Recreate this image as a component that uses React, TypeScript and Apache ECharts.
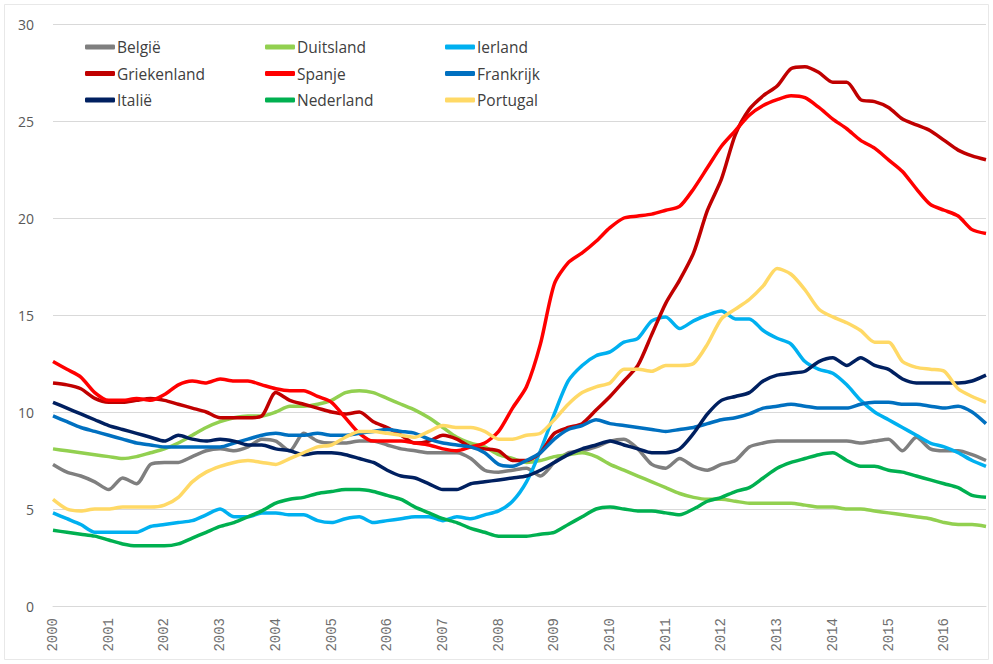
import React, { useEffect, useRef } from "react";
import * as echarts from "echarts";

const years = ["2000","2001","2002","2003","2004","2005","2006","2007","2008","2009","2010","2011","2012","2013","2014","2015","2016"];
const quarters = ["Q1","Q2","Q3","Q4"];
const categories: string[] = [];
years.forEach((y) => quarters.forEach((q) => categories.push(`${y} ${q}`)));

const belgie = [7.3,6.9,6.7,6.4, 6.0,6.6,6.3,7.3, 7.4,7.4,7.7,8.0, 8.1,8.0,8.2,8.6, 8.5,8.0,8.9,8.5, 8.4,8.4,8.5,8.5, 8.3,8.1,8.0,7.9, 7.9,7.9,7.6,7.0, 6.9,7.0,7.1,6.7, 7.4,7.9,8.0,8.2, 8.5,8.6,8.1,7.3, 7.1,7.6,7.2,7.0, 7.3,7.5,8.2,8.4, 8.5,8.5,8.5,8.5, 8.5,8.5,8.4,8.5, 8.6,8.0,8.7,8.1, 8.0,8.0,7.8,7.5];
const duitsland = [8.1,8.0,7.9,7.8, 7.7,7.6,7.7,7.9, 8.1,8.4,8.8,9.2, 9.5,9.7,9.8,9.8, 10.0,10.3,10.3,10.4, 10.6,11.0,11.1,11.0, 10.7,10.4,10.1,9.7, 9.2,8.7,8.4,8.2, 7.8,7.6,7.4,7.5, 7.7,7.8,7.9,7.7, 7.3,7.0,6.7,6.4, 6.1,5.8,5.6,5.5, 5.5,5.4,5.3,5.3, 5.3,5.3,5.2,5.1, 5.1,5.0,5.0,4.9, 4.8,4.7,4.6,4.5, 4.3,4.2,4.2,4.1];
const ierland = [4.8,4.5,4.2,3.8, 3.8,3.8,3.8,4.1, 4.2,4.3,4.4,4.7, 5.0,4.6,4.6,4.8, 4.8,4.7,4.7,4.4, 4.3,4.5,4.6,4.3, 4.4,4.5,4.6,4.6, 4.4,4.6,4.5,4.7, 4.9,5.4,6.4,8.0, 9.9,11.6,12.4,12.9, 13.1,13.6,13.8,14.7, 14.9,14.3,14.7,15.0, 15.2,14.8,14.8,14.2, 13.8,13.5,12.6,12.2, 12.0,11.4,10.6,10.0, 9.6,9.2,8.8,8.4, 8.2,7.9,7.5,7.2];
const griekenland = [11.5,11.4,11.2,10.7, 10.5,10.5,10.6,10.7, 10.6,10.4,10.2,10.0, 9.7,9.7,9.7,9.8, 11.0,10.6,10.4,10.2, 10.0,9.9,10.0,9.5, 9.2,8.8,8.4,8.5, 8.8,8.6,8.2,8.1, 8.0,7.5,7.5,7.9, 8.9,9.2,9.4,10.1, 10.8,11.6,12.4,14.0, 15.6,16.8,18.2,20.4, 22.0,24.3,25.6,26.3, 26.8,27.7,27.8,27.5, 27.0,27.0,26.1,26.0, 25.7,25.1,24.8,24.5, 24.0,23.5,23.2,23.0];
const spanje = [12.6,12.2,11.8,11.0, 10.6,10.6,10.7,10.6, 10.9,11.4,11.6,11.5, 11.7,11.6,11.6,11.4, 11.2,11.1,11.1,10.8, 10.5,9.7,8.9,8.5, 8.5,8.5,8.4,8.3, 8.1,8.0,8.2,8.4, 9.0,10.2,11.3,13.5, 16.6,17.7,18.2,18.8, 19.5,20.0,20.1,20.2, 20.4,20.6,21.5,22.6, 23.7,24.5,25.3,25.8, 26.1,26.3,26.2,25.7, 25.1,24.6,24.0,23.6, 23.0,22.4,21.5,20.7, 20.4,20.1,19.4,19.2];
const frankrijk = [9.8,9.5,9.2,9.0, 8.8,8.6,8.4,8.3, 8.2,8.2,8.2,8.2, 8.2,8.4,8.6,8.8, 8.9,8.8,8.8,8.9, 8.8,8.8,8.9,9.0, 9.1,9.0,8.9,8.6, 8.4,8.3,8.2,7.9, 7.3,7.2,7.5,7.9, 8.6,9.1,9.3,9.6, 9.4,9.3,9.2,9.1, 9.0,9.1,9.2,9.4, 9.6,9.7,9.9,10.2, 10.3,10.4,10.3,10.2, 10.2,10.2,10.4,10.5, 10.5,10.4,10.4,10.3, 10.2,10.3,10.0,9.4];
const italie = [10.5,10.2,9.9,9.6, 9.3,9.1,8.9,8.7, 8.5,8.8,8.6,8.5, 8.6,8.5,8.3,8.3, 8.1,8.0,7.8,7.9, 7.9,7.8,7.6,7.4, 7.0,6.7,6.6,6.3, 6.0,6.0,6.3,6.4, 6.5,6.6,6.7,7.0, 7.4,7.8,8.1,8.3, 8.5,8.3,8.1,7.9, 7.9,8.1,8.9,9.9, 10.6,10.8,11.0,11.6, 11.9,12.0,12.1,12.6, 12.8,12.4,12.8,12.4, 12.2,11.7,11.5,11.5, 11.5,11.5,11.6,11.9];
const nederland = [3.9,3.8,3.7,3.6, 3.4,3.2,3.1,3.1, 3.1,3.2,3.5,3.8, 4.1,4.3,4.6,4.9, 5.3,5.5,5.6,5.8, 5.9,6.0,6.0,5.9, 5.7,5.5,5.1,4.8, 4.5,4.3,4.0,3.8, 3.6,3.6,3.6,3.7, 3.8,4.2,4.6,5.0, 5.1,5.0,4.9,4.9, 4.8,4.7,5.0,5.4, 5.6,5.9,6.1,6.6, 7.1,7.4,7.6,7.8, 7.9,7.5,7.2,7.2, 7.0,6.9,6.7,6.5, 6.3,6.1,5.7,5.6];
const portugal = [5.5,5.0,4.9,5.0, 5.0,5.1,5.1,5.1, 5.2,5.6,6.4,6.9, 7.2,7.4,7.5,7.4, 7.3,7.6,7.9,8.2, 8.3,8.7,9.0,9.0, 8.9,8.8,8.7,9.0, 9.3,9.2,9.2,9.0, 8.6,8.6,8.8,8.9, 9.6,10.4,11.0,11.3, 11.5,12.2,12.2,12.1, 12.4,12.4,12.5,13.5, 14.8,15.3,15.8,16.5, 17.4,17.1,16.3,15.3, 14.9,14.6,14.2,13.6, 13.6,12.6,12.3,12.2, 12.1,11.2,10.8,10.5];

const seriesNames = ["België","Duitsland","Ierland","Griekenland","Spanje","Frankrijk","Italië","Nederland","Portugal"];
const seriesData = [belgie, duitsland, ierland, griekenland, spanje, frankrijk, italie, nederland, portugal];
const seriesColors = ["#7F7F7F","#92D050","#00B0F0","#C00000","#FF0000","#0070C0","#002060","#00B050","#FFD966"];

export default function App() {
  const ref = useRef<HTMLDivElement>(null);
  useEffect(() => {
    if (!ref.current) return;
    const chart = echarts.init(ref.current, null, { renderer: "svg" });
    const legends = seriesNames.map((name, i) => ({
      data: [name],
      left: 85 + (i % 3) * 180,
      top: 39 + Math.floor(i / 3) * 26.5,
      icon: "roundRect",
      itemWidth: 30,
      itemHeight: 5,
      itemGap: 2,
      padding: 0,
      textStyle: { color: "#404040", fontSize: 15.5, fontFamily: "Open Sans", padding: [0, 0, 0, -3] },
    }));
    chart.setOption({
      animation: false,
      backgroundColor: "#ffffff",
      graphic: [
        { type: "rect", shape: { x: 4.5, y: 4.5, width: 984, height: 655 }, style: { fill: "none", stroke: "#e8e8e8", lineWidth: 1 }, silent: true },
      ],
      legend: legends,
      grid: { left: 53, right: 7, top: 24, bottom: 58 },
      xAxis: {
        type: "category",
        data: categories,
        boundaryGap: false,
        axisLine: { lineStyle: { color: "#d9d9d9", width: 1 } },
        axisTick: { show: false },
        axisLabel: {
          interval: (i: number) => i % 4 === 0,
          formatter: (v: string) => v.split(" ")[0],
          rotate: 90,
          color: "#6f6f6f",
          fontSize: 14,
          fontFamily: "Liberation Mono",
          margin: 12,
        },
        splitLine: { show: false },
      },
      yAxis: {
        type: "value",
        min: 0,
        max: 30,
        interval: 5,
        axisLine: { show: false },
        axisTick: { show: false },
        axisLabel: { color: "#595959", fontSize: 14, fontFamily: "Open Sans", margin: 19 },
        splitLine: { lineStyle: { color: "#d9d9d9", width: 1 } },
      },
      series: seriesNames.map((name, i) => ({
        name,
        type: "line",
        data: seriesData[i],
        showSymbol: false,
        symbol: "none",
        smooth: 0.25,
        lineStyle: { color: seriesColors[i], width: 3.5 },
        itemStyle: { color: seriesColors[i] },
      })),
    });
    return () => chart.dispose();
  }, []);
  return <div ref={ref} style={{ position: "fixed", left: 0, top: 0, width: 993, height: 664 }} />;
}
